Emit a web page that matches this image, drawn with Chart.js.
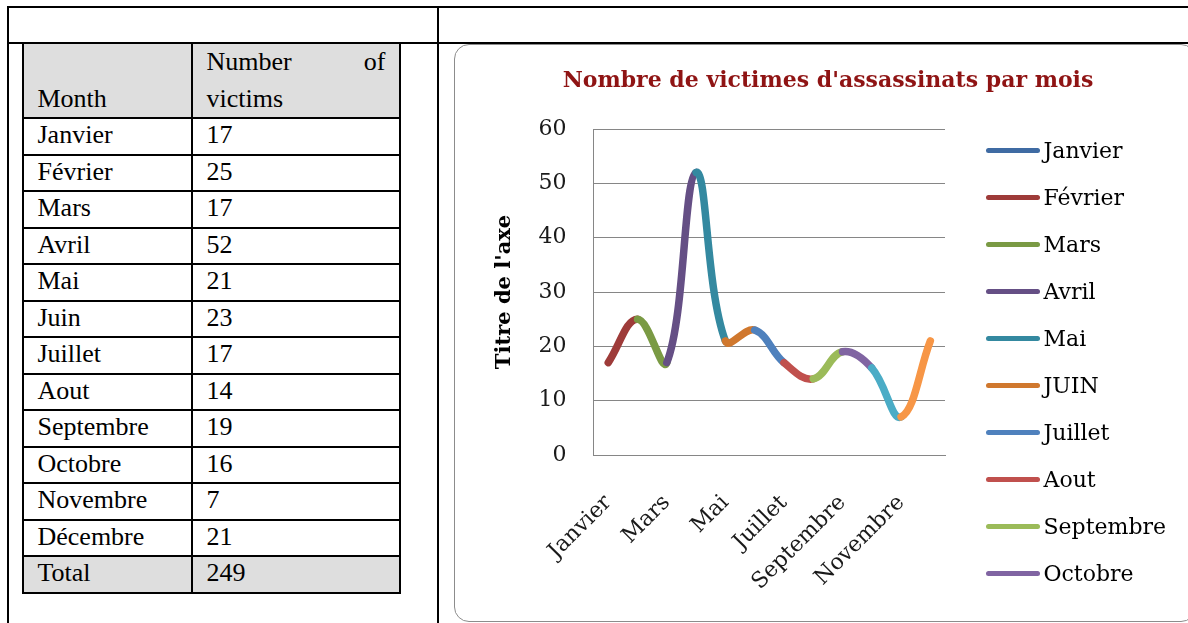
<!DOCTYPE html>
<html>
<head>
<meta charset="utf-8">
<script src="https://cdn.jsdelivr.net/npm/chart.js@4.4.1/dist/chart.umd.min.js"></script>
<style>
  html, body { margin: 0; padding: 0; background: #fff; width: 1188px; height: 623px; overflow: hidden; }
  .outer { position: absolute; left: 7px; top: 6px; width: 1300px; height: 700px; border-left: 2px solid #000; border-top: 2px solid #000; }
  .rowline { position: absolute; left: 7px; top: 42px; width: 1300px; height: 2px; background: #000; }
  .colline { position: absolute; left: 437px; top: 6px; width: 2px; height: 700px; background: #000; }
  table { position: absolute; left: 22px; top: 42px; border-collapse: collapse; table-layout: fixed; width: 376.5px;
          font-family: "Liberation Serif", "Times New Roman", serif; font-size: 26px; color: #000; }
  td { border: 2px solid #000; padding: 1px 13px 0 13.5px; vertical-align: top; line-height: 29.9px; white-space: nowrap; overflow: hidden; }
  tr { height: 36.5px; }
  tr.head { height: 72px; }
  tr.head td, tr.total td { background: #dedede; }
  tr.head td { vertical-align: bottom; line-height: 36.7px; padding-top: 0; padding-bottom: 0; }
  td.wrap { white-space: normal; text-align: justify; }
  .frame { position: absolute; left: 454px; top: 43.5px; width: 742px; height: 578.5px; box-sizing: border-box;
           border: 1.5px solid #8c8c8c; border-radius: 15px; }
  #chart { position: absolute; left: 455px; top: 45px; }
  #legend { position: absolute; font-family: "DejaVu Serif", serif; font-size: 22px; color: #000; }
  #legend div { height: 47px; line-height: 47px; white-space: nowrap; }
  #legend span.key { display: inline-block; width: 54px; height: 5px; border-radius: 2.5px; vertical-align: middle; margin-right: 3.5px; position: relative; top: -1px; }
</style>
</head>
<body>
<div class="outer"></div>
<div class="rowline"></div>
<div class="colline"></div>

<table id="tbl">
  <colgroup><col style="width:169px"><col style="width:207.5px"></colgroup>
</table>

<canvas id="chart" width="746" height="576"></canvas>
<div class="frame"></div>
<div id="legend"></div>

<script>
// monthly data
const months = ['Janvier', 'Février', 'Mars', 'Avril', 'Mai', 'Juin', 'Juillet', 'Aout', 'Septembre', 'Octobre', 'Novembre', 'Décembre'];
const victims = [17, 25, 17, 52, 21, 23, 17, 14, 19, 16, 7, 21];
// series names as they appear in the chart legend
const legendNames = ['Janvier', 'Février', 'Mars', 'Avril', 'Mai', 'JUIN', 'Juillet', 'Aout', 'Septembre', 'Octobre', 'Novembre', 'Décembre'];
const monthColors = ['#3f6ba3', '#9e3b39', '#7a9a44', '#654f85', '#3489a0', '#d0782e',
                     '#4f81bd', '#c0504d', '#9bbb59', '#8064a2', '#4bacc6', '#f79646'];
const legendShown = 10;   // the legend box only has room for ten entries

// table
const tbl = document.getElementById('tbl');
let html = '<tr class="head"><td>Month</td><td class="wrap">Number of victims</td></tr>';
months.forEach((m, i) => { html += '<tr><td>' + m + '</td><td>' + victims[i] + '</td></tr>'; });
const total = victims.reduce((a, b) => a + b, 0);
html += '<tr class="total"><td>Total</td><td>' + total + '</td></tr>';
tbl.insertAdjacentHTML('beforeend', html);

// chart
const serif = 'DejaVu Serif';
const gridGray = '#868686';
const chart = new Chart(document.getElementById('chart'), {
  type: 'line',
  data: {
    labels: months,
    datasets: [{
      data: victims,
      borderWidth: 7.5,
      borderCapStyle: 'round',
      borderJoinStyle: 'round',
      tension: 0.4,
      pointRadius: 0,
      fill: false,
      segment: { borderColor: c => monthColors[c.p1DataIndex] }
    }]
  },
  options: {
    responsive: false,
    animation: false,
    devicePixelRatio: 1,
    layout: { padding: 0 },
    plugins: {
      title: {
        display: true,
        text: "Nombre de victimes d'assassinats par mois",
        color: '#8f1414',
        font: { family: serif, size: 22, weight: 'bold' },
        padding: { top: 23, bottom: 34.6 }
      },
      legend: { display: false },
      tooltip: { enabled: false }
    },
    scales: {
      x: {
        type: 'category',
        offset: true,
        grid: { display: false, drawTicks: false },
        border: { color: gridGray },
        ticks: {
          autoSkip: false, minRotation: 45, maxRotation: 45, padding: 35,
          color: '#1a1a1a', font: { family: serif, size: 22 },
          callback: (v, i) => (i % 2 === 0 ? months[i] : '')
        },
        afterFit: s => { s.height = 166; }
      },
      y: {
        min: 0, max: 60,
        ticks: { stepSize: 10, padding: 27, color: '#1a1a1a', font: { family: serif, size: 22 } },
        grid: { color: gridGray, drawTicks: false },
        border: { color: gridGray },
        title: { display: true, text: "Titre de l'axe", color: '#000', padding: { top: 36.5, bottom: 0 }, font: { family: serif, size: 21, weight: 'bold' } },
        afterFit: s => { s.width = 138.6; }
      },
      // empty space between the plot and the legend
      legendGap: {
        type: 'linear', position: 'right',
        grid: { display: false, drawTicks: false }, border: { display: false },
        ticks: { display: false },
        afterFit: s => { s.width = 256; }
      }
    }
  }
});

// legend, placed next to the plot area
const legend = document.getElementById('legend');
const area = chart.chartArea;
legend.style.left = (455 + area.right + 41) + 'px';
legend.style.top = (45 + area.top - 2.5) + 'px';
legendNames.slice(0, legendShown).forEach((n, i) => {
  const row = document.createElement('div');
  const key = document.createElement('span');
  key.className = 'key';
  key.style.background = monthColors[i];
  row.appendChild(key);
  row.appendChild(document.createTextNode(n));
  legend.appendChild(row);
});
</script>
</body>
</html>
